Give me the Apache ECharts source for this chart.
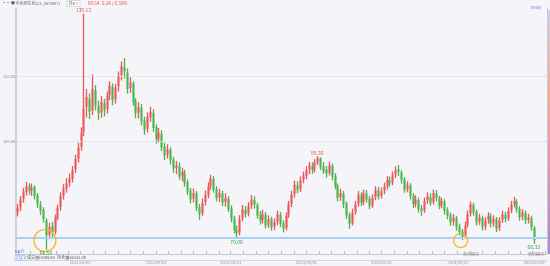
<!DOCTYPE html>
<html><head><meta charset="utf-8">
<script src="https://cdn.jsdelivr.net/npm/echarts@6/dist/echarts.min.js"></script>
<style>html,body{margin:0;padding:0;background:#f4f4f9;}#c{width:550px;height:266px;}</style>
</head><body><div id="c"></div>
<script>
// weekly candles, first candle week of 2021/09/29
const firstWeek = [2021, 8, 29];
const opens = [78.0,79.6,82.2,84.3,86.2,84.6,85.8,83.2,80.4,78.8,75.6,71.2,73.8,72.2,76.3,79.7,83.2,85.3,87.2,88.4,
91.2,94.6,98.3,102.8,110.5,113.0,109.4,115.6,110.8,108.8,111.6,109.8,114.2,116.6,112.8,116.8,120.3,122.6,121.0,116.3,
117.6,112.3,108.7,110.2,106.3,103.8,107.2,108.7,104.3,100.7,102.2,98.3,95.8,97.2,94.3,91.7,92.2,89.3,90.2,87.3,
84.7,82.3,83.8,79.7,77.8,81.2,83.3,86.2,88.3,85.2,82.7,83.8,81.3,82.2,79.3,76.2,72.7,71.8,76.2,78.8,
77.7,80.2,81.8,80.3,77.2,75.7,77.3,74.2,75.8,73.7,75.2,77.3,74.7,73.2,77.2,80.7,83.7,86.3,85.2,88.2,
89.3,91.2,92.3,91.2,93.3,94.6,92.2,91.2,90.2,92.3,89.2,86.2,82.7,83.8,80.7,77.2,74.7,78.2,80.7,83.3,
81.2,83.8,82.2,80.2,82.7,84.8,83.2,84.7,86.2,87.8,87.2,89.7,91.2,90.3,88.2,85.2,86.3,83.2,80.7,81.8,
79.2,78.7,81.7,82.8,81.2,83.8,82.3,80.2,81.3,78.7,77.2,75.2,76.3,73.7,72.2,70.7,74.2,77.7,80.3,78.2,
75.2,76.3,73.7,75.7,76.8,74.7,75.8,73.2,75.7,77.3,76.2,78.7,80.7,81.3,79.2,76.7,77.8,75.7,76.3,73.3];
const closes = [79.5,82.0,84.5,86.0,84.8,85.6,83.0,80.5,78.6,76.0,71.0,73.5,72.0,76.5,79.5,83.0,85.5,87.0,88.5,91.0,
94.5,98.0,102.5,110.0,113.5,109.0,116.0,111.0,108.5,112.0,109.5,114.0,117.0,112.5,116.5,120.0,123.0,121.5,116.0,118.0,
112.0,108.5,110.5,106.0,103.5,107.5,109.0,104.0,100.5,102.5,98.0,95.5,97.5,94.0,91.5,92.5,89.0,90.5,87.0,84.5,
82.0,84.0,79.5,77.5,81.0,83.5,86.0,88.5,85.0,82.5,84.0,81.0,82.5,79.0,76.0,72.5,71.5,76.0,79.0,77.5,
80.0,82.0,80.5,77.0,75.5,77.5,74.0,76.0,73.5,75.0,77.5,74.5,73.0,77.0,80.5,83.5,86.5,85.0,88.0,89.5,
91.0,92.5,91.0,93.5,94.8,92.0,90.6,90.0,92.5,89.0,86.0,82.5,84.0,80.5,77.0,74.5,78.0,80.5,83.5,81.0,
84.0,82.0,80.0,82.5,85.0,83.0,84.5,86.0,88.0,87.0,89.5,91.0,90.5,88.0,85.0,86.5,83.0,80.5,82.0,79.0,
78.5,81.5,83.0,81.0,84.0,82.5,80.0,81.5,78.5,77.0,75.0,76.5,73.5,72.0,70.5,74.0,77.5,80.5,78.0,75.0,
76.5,73.5,75.5,77.0,74.5,76.0,73.0,75.5,77.5,76.0,78.5,80.5,81.5,79.0,76.5,78.0,75.5,76.5,73.5,69.54];
const lows = [76.8,78.4,81.0,83.2,83.5,83.1,82.0,79.4,77.2,74.9,66.5,69.8,70.4,71.3,75.6,78.5,82.0,84.1,85.9,87.2,
90.1,93.4,97.0,101.5,107.2,106.8,108.0,109.4,106.5,107.1,107.6,108.4,112.6,111.0,111.5,115.2,118.6,119.2,114.6,114.8,
110.8,107.0,106.9,104.8,101.9,102.6,105.9,102.8,99.2,99.6,96.9,94.1,94.6,92.8,90.2,89.8,88.1,87.6,85.9,83.4,
80.8,81.1,78.4,75.7,76.9,80.1,82.4,85.0,84.1,81.4,81.2,80.0,79.8,78.1,75.0,71.6,70.06,71.0,75.3,76.4,
76.8,79.1,79.2,76.1,74.3,74.6,73.1,73.2,72.4,72.6,74.1,73.5,71.9,72.5,76.3,79.6,82.6,83.9,84.3,87.0,
88.2,89.8,89.9,90.3,92.6,91.1,89.9,88.7,89.4,87.9,85.1,81.4,81.6,79.4,76.0,73.0,74.0,77.3,79.8,80.0,
80.3,81.0,79.0,79.4,81.8,82.0,82.3,83.6,85.1,85.9,86.4,88.6,89.2,86.9,84.1,84.2,82.0,79.4,79.6,78.0,
77.0,77.9,80.6,80.0,80.4,81.4,79.0,79.3,77.4,75.9,73.9,74.0,72.4,70.9,69.5,70.0,73.4,76.8,77.0,74.0,
74.2,72.4,72.6,74.6,73.4,73.6,72.0,72.3,74.8,75.0,75.4,77.8,79.6,78.0,75.5,75.6,74.4,74.6,72.4,68.33];
const highs = [80.6,83.1,85.6,87.4,87.0,86.9,86.4,84.0,81.5,79.6,76.2,74.8,75.1,77.4,80.4,84.2,86.7,88.6,90.0,92.3,
95.8,99.5,104.2,139.13,116.0,114.6,120.5,117.2,112.4,113.8,113.0,115.3,118.4,117.8,117.6,121.4,124.5,125.5,122.3,119.6,
118.4,113.2,112.0,111.4,107.5,108.8,110.6,109.8,105.1,104.0,103.3,99.4,99.0,98.1,95.2,93.9,93.4,91.8,91.1,88.2,
85.6,85.4,84.6,80.6,82.3,84.8,87.3,89.6,89.2,86.1,85.3,84.7,83.9,83.0,80.2,77.0,74.0,77.2,80.3,80.0,
81.2,83.4,83.0,81.0,78.4,78.8,78.2,77.1,76.7,76.2,78.6,78.1,75.6,78.0,81.6,84.7,87.8,87.6,89.1,90.6,
92.2,93.6,93.4,94.4,95.35,95.0,93.5,92.3,93.6,93.0,90.1,86.9,85.3,84.6,81.4,78.0,79.2,81.6,84.6,84.2,
85.1,84.9,83.1,83.6,86.1,85.9,85.7,87.2,89.2,89.0,90.6,92.2,92.6,91.0,88.9,87.6,87.0,84.0,83.3,82.6,
80.3,82.6,84.2,83.9,85.1,84.9,83.1,82.6,82.1,79.6,78.0,77.6,77.0,74.6,73.0,75.2,78.6,81.4,81.0,78.9,
77.6,77.0,76.6,78.1,77.7,77.1,76.6,76.6,78.6,78.2,79.6,81.6,82.8,82.1,79.9,79.1,78.6,77.6,77.0,73.8];
const yTickLabels = [100, 120];
const xLabelDates = ['2022/03/01','2022/09/01','2023/03/01','2023/09/01','2024/03/01','2024/09/02','2025/03/06'];
const guideLevel = 70.3;
const markedHigh = [23, 104];
const markedLow = [10, 76, 179];
const circled = [10, 154];
const rolloverLabels = ['合约换月', '合约换月'];
const lastPrice = '69.54', change = '0.24 / 0.35%';
const volumeText = ['成交量', '13008.00', '持仓量', '336333.00'];

const dates = opens.map((_, i) => new Date(firstWeek[0], firstWeek[1], firstWeek[2] + 7 * i).getTime());
const monthTicks = [];
for (let k = 0; k < 43; k++) monthTicks.push(new Date(2021, 9 + k, 1).getTime());
const labelTs = xLabelDates.map(s => { const p = s.split('/'); return new Date(+p[0], +p[1] - 1, +p[2]).getTime(); });
const ohlc = opens.map((o, i) => [dates[i], o, closes[i], lows[i], highs[i]]);

const UP = '#ec5757', DOWN = '#4db44d';
const FONT = '"Noto Sans CJK SC", "Noto Sans", sans-serif';
const pad = n => (n < 10 ? '0' : '') + n;

const chart = echarts.init(document.getElementById('c'), null, { renderer: 'canvas' });

function renderCandle(params, api) {
  const x = api.value(0), o = api.value(1), c = api.value(2), l = api.value(3), h = api.value(4);
  const pO = api.coord([x, o]), pC = api.coord([x, c]), pL = api.coord([x, l]), pH = api.coord([x, h]);
  const color = c >= o ? UP : DOWN;
  const cx = Math.round(pO[0]) + 0.5;
  const top = Math.min(pO[1], pC[1]);
  const bh = Math.max(Math.abs(pO[1] - pC[1]), 1);
  return {
    type: 'group',
    children: [
      { type: 'line', shape: { x1: cx, y1: pH[1], x2: cx, y2: pL[1] }, style: { stroke: color, lineWidth: 1.3 } },
      { type: 'rect', shape: { x: cx - 1, y: top, width: 2, height: bh }, style: { fill: color } }
    ]
  };
}

chart.setOption({
  animation: false,
  backgroundColor: '#f4f4f9',
  grid: { left: 15, right: 3, top: 8, bottom: 12 },
  xAxis: {
    type: 'value',
    min: new Date(2021, 8, 27).getTime(),
    max: new Date(2025, 3, 6).getTime(),
    axisLine: { lineStyle: { color: '#c4c4cc', width: 1 } },
    axisTick: { show: true, inside: true, length: 3, customValues: monthTicks, lineStyle: { color: '#b8b8c0' } },
    axisLabel: {
      customValues: labelTs, hideOverlap: false, margin: 6, fontSize: 4, color: '#999', fontFamily: FONT,
      formatter: v => { const d = new Date(v); return d.getFullYear() + '/' + pad(d.getMonth() + 1) + '/' + pad(d.getDate()); }
    },
    splitLine: { show: false }
  },
  yAxis: {
    type: 'value', min: 65.23, max: 140.92,
    axisLine: { show: true, lineStyle: { color: '#c4c4cc', width: 1.5 } },
    axisTick: { show: false },
    axisLabel: { customValues: yTickLabels, margin: 1, fontSize: 4, color: '#888', fontFamily: FONT, formatter: v => v.toFixed(2) },
    splitLine: { show: false }
  },
  series: [{
    type: 'custom',
    data: ohlc,
    encode: { x: 0, y: [1, 2, 3, 4] },
    renderItem: renderCandle,
    silent: true,
    markLine: {
      silent: true, symbol: 'none', label: { show: false },
      data: [
        ...yTickLabels.map(v => ({ yAxis: v, lineStyle: { color: '#d6d6de', type: [2, 2], width: 1 } })),
        { yAxis: guideLevel, lineStyle: { color: '#a9d1f3', type: 'solid', width: 2 } }
      ]
    }
  }]
});

const gfx = [];
const t = (x, y, text, fill, size, align) => gfx.push({ type: 'text', x, y, style: { text, fill, fontSize: size || 4.5, fontFamily: FONT, textVerticalAlign: 'middle', textAlign: align || 'left' }, z: 20 });
markedHigh.forEach(i => { const p = chart.convertToPixel({ gridIndex: 0 }, [dates[i], highs[i]]); t(p[0], p[1] - 3.5, highs[i].toFixed(2), '#e84a4a', 5, 'center'); });
markedLow.forEach(i => { const p = chart.convertToPixel({ gridIndex: 0 }, [dates[i], lows[i]]); t(p[0], p[1] + 3.5, lows[i].toFixed(2), '#3aa63a', 5, 'center'); });
circled.forEach((i, k) => {
  const p = chart.convertToPixel({ gridIndex: 0 }, [dates[i], guideLevel]);
  gfx.push({ type: 'circle', shape: { cx: p[0] - 1, cy: p[1] + 3, r: k === 0 ? 11 : 7 }, style: { fill: 'none', stroke: '#f3b71c', lineWidth: 1.2 }, z: 10 });
});
t(2, 3.5, '▪▪ ● 年化用生化(CS_BY.8907)', '#666', 4);
gfx.push({ type: 'rect', shape: { x: 67, y: 0.5, width: 13, height: 6 }, style: { fill: '#fff', stroke: '#bbb', lineWidth: 0.5 }, z: 19 });
t(68.5, 3.5, '日K∨', '#555', 4);
t(88, 3.5, lastPrice, '#e84a4a');
t(102, 3.5, change, '#e84a4a');
t(531, 7, 'Relay', '#6a8fe0', 4);
gfx.push({ type: 'line', shape: { x1: 15, y1: 260.5, x2: 547, y2: 260.5 }, style: { stroke: '#d4d4dc', lineWidth: 1 }, z: 5 });
t(15, 251.5, 'BB行', '#5577cc', 4);
gfx.push({ type: 'rect', shape: { x: 15, y: 255.5, width: 10, height: 4.5 }, style: { fill: '#fff', stroke: '#7fa2e8', lineWidth: 0.5 }, z: 19 });
t(16, 257.8, 'CSL∨', '#4a72d0', 4);
t(27, 257.8, volumeText[0], '#555', 4);
t(38, 257.8, volumeText[1], '#555', 4);
t(57, 257.8, volumeText[2], '#555', 4);
t(67, 257.8, volumeText[3], '#555', 4);
t(463, 254.5, rolloverLabels[0], '#888', 4);
t(528, 254.5, rolloverLabels[1], '#888', 4);
gfx.push({ type: 'line', shape: { x1: 547.5, y1: 8, x2: 547.5, y2: 254 }, style: { stroke: '#c8c8d0', lineWidth: 1 }, z: 5 });
gfx.push({ type: 'rect', shape: { x: 548, y: 10, width: 2, height: 244 },
  style: { fill: new echarts.graphic.LinearGradient(0, 0, 0, 1, [
    { offset: 0, color: '#d6d0ec' }, { offset: 0.35, color: '#f2b08a' }, { offset: 0.55, color: '#f09aa8' }, { offset: 1, color: '#a88ad8' }]) }, z: 5 });
chart.setOption({ graphic: { elements: gfx } });
</script></body></html>
